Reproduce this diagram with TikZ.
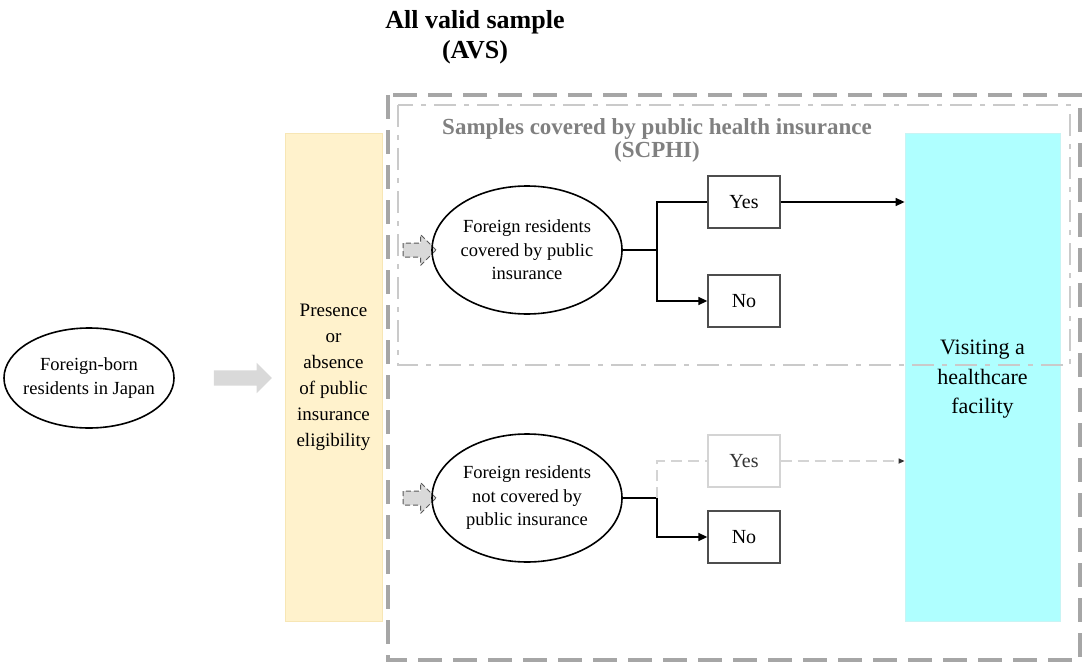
\documentclass[tikz,border=0pt]{standalone}
\usepackage{fontspec}
\setmainfont{Liberation Serif}
\usepackage{xcolor}
\usetikzlibrary{shapes,arrows.meta,positioning,calc}

\definecolor{avsline}{HTML}{A6A6A6}
\definecolor{scphiline}{HTML}{CACACA}
\definecolor{scphitext}{HTML}{808080}
\definecolor{eligfill}{HTML}{FFF2CC}
\definecolor{eligline}{HTML}{F7E6B5}
\definecolor{visitfill}{HTML}{AFFFFF}
\definecolor{visitline}{HTML}{C8F4F4}
\definecolor{boxline}{HTML}{4D4D4D}
\definecolor{faint}{HTML}{D4D4D4}

\begin{document}
\begin{tikzpicture}[
            x=1pt, y=-1pt,
            every node/.style={font=\fontsize{18.5}{23.5}\selectfont, align=center},
            grp/.style={ellipse, draw, line width=1.6pt, minimum width=190pt, minimum height=128pt, inner sep=0pt},
            ans/.style={draw=boxline, line width=1.3pt, minimum width=72pt, minimum height=52pt, font=\fontsize{20}{24}\selectfont},
            col/.style={minimum width=#1, minimum height=488pt, line width=0.8pt},
            inarr/.style={single arrow, single arrow head extend=8.5pt, minimum height=33pt, inner xsep=0pt, inner ysep=6.5pt,
                fill=black!15, draw=black!65, line width=1pt, dash pattern=on 5pt off 3pt},
            ln/.style={line width=1.5pt},
            tip/.style={-{Triangle[length=9pt,width=8pt]}},
        ]
            \useasboundingbox (0,0) rectangle (1084,666);

            % columns
            \node[col=97pt, fill=eligfill, draw=eligline, font=\fontsize{19}{26}\selectfont] (elig) at (333.5,377) {Presence\\or\\absence\\of public\\insurance\\eligibility};
            \node[col=155pt, fill=visitfill, draw=visitline, font=\fontsize{22}{29.5}\selectfont, text depth=-8pt] (visit) at (982.5,377) {Visiting a\\healthcare\\facility};

            % sample frames
            \draw[avsline, line width=3.5pt, dash pattern=on 24pt off 11pt] (388,95) rectangle (1080,660);
            \draw[scphiline, line width=2.8pt, dash pattern=on 22pt off 8pt on 5pt off 8pt] (398,105) rectangle (1070,365);
            \node[font=\bfseries\fontsize{26}{30}\selectfont] (avs) at (475,37) {All valid sample\\(AVS)};
            \node[font=\bfseries\fontsize{23}{23}\selectfont, text=scphitext] (scphi) at (657,140) {Samples covered by public health insurance\\(SCPHI)};

            % population
            \node[ellipse, draw, line width=1.6pt, minimum width=170pt, minimum height=100pt, inner xsep=-12pt, inner ysep=0pt] (pop) at (89,378) {Foreign-born\\residents in Japan};
            \node[single arrow, single arrow head extend=7.5pt, minimum height=58pt, inner xsep=0pt, inner ysep=7.5pt, fill=black!15] (split) at (239,378) {};

            % covered
            \node[inarr] (in1) at (416,250) {};
            \node[grp] (cov) at (527,250) {Foreign residents\\covered by public\\insurance};
            \node[ans] (yes1) at (744,202) {Yes};
            \node[ans] (no1) at (744,301) {No};
            \coordinate (j1) at (657,250);
            \draw[ln] (cov) -- (j1);
            \draw[ln] (j1) |- (yes1);
            \draw[ln, tip] (j1) |- (no1);
            \draw[ln, tip] (yes1) -- (yes1 -| visit.west);

            % not covered
            \node[inarr] (in2) at (416,498) {};
            \node[grp] (ncov) at (527,498) {Foreign residents\\not covered by\\public insurance};
            \node[ans, draw=faint, text=black!80] (yes2) at (744,461) {Yes};
            \node[ans] (no2) at (744,537) {No};
            \coordinate (j2) at (657,498);
            \draw[ln] (ncov) -- (j2);
            \draw[ln, faint, dash pattern=on 11pt off 6pt] (j2) |- (yes2);
            \draw[ln, tip] (j2) |- (no2);
            \draw[ln, faint, dash pattern=on 11pt off 6pt, -{Triangle[length=6pt,width=5pt,color=black!80]}] (yes2) -- (yes2 -| visit.west);
        \end{tikzpicture}
\end{document}
